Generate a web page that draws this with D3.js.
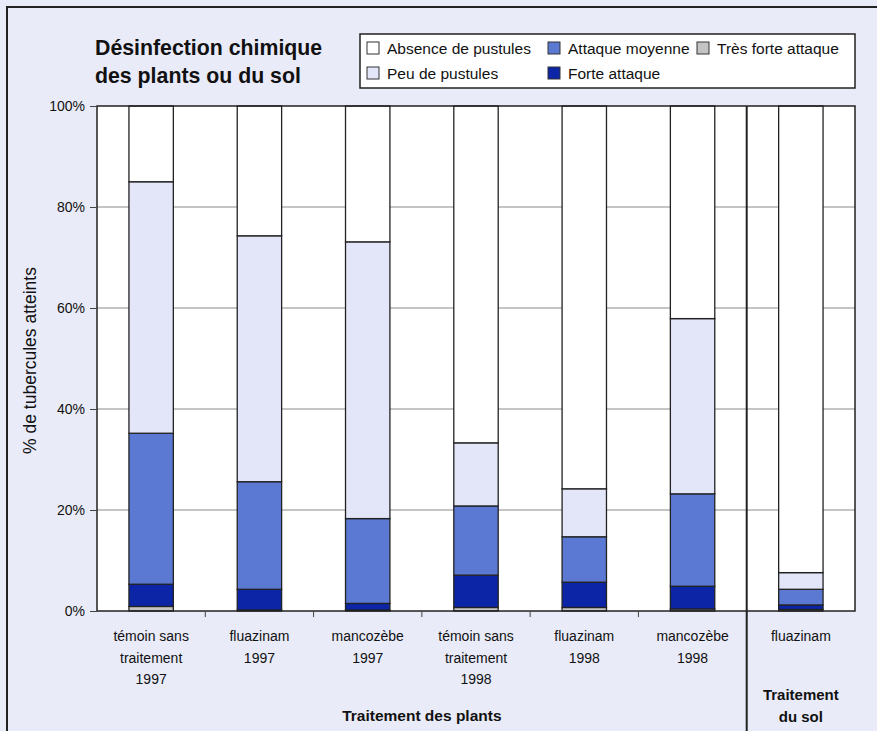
<!DOCTYPE html>
<html>
<head>
<meta charset="utf-8">
<script src="https://cdn.jsdelivr.net/npm/d3@7"></script>
<style>
  body { margin: 0; background: #fff; }
  text { font-family: "Liberation Sans", Arial, sans-serif; fill: #111; }
</style>
</head>
<body>
<div id="chart"></div>
<script>
// categories (lines of each x label)
const categories = [
  ["témoin sans", "traitement", "1997"],
  ["fluazinam", "1997"],
  ["mancozèbe", "1997"],
  ["témoin sans", "traitement", "1998"],
  ["fluazinam", "1998"],
  ["mancozèbe", "1998"],
  ["fluazinam"]
];
const seriesNames = ["Très forte attaque", "Forte attaque", "Attaque moyenne", "Peu de pustules", "Absence de pustules"];
// values in % of tubers, per category
const tresForte = [0.9, 0.2, 0.2, 0.7, 0.7, 0.4, 0.3];
const forte     = [4.4, 4.1, 1.3, 6.4, 5.0, 4.5, 0.9];
const moyenne   = [29.9, 21.3, 16.8, 13.7, 9.0, 18.3, 3.1];
const peu       = [49.8, 48.7, 54.8, 12.5, 9.5, 34.7, 3.3];
const absence   = categories.map((c, i) => 100 - tresForte[i] - forte[i] - moyenne[i] - peu[i]);
const yTicks = [0, 20, 40, 60, 80, 100];

const colors = {
  "Très forte attaque": "#c4c4c6",
  "Forte attaque": "#0b25a6",
  "Attaque moyenne": "#5b78d2",
  "Peu de pustules": "#e3e6f8",
  "Absence de pustules": "#ffffff"
};

const W = 877, H = 731;
const margin = {top: 106, right: 22, bottom: 120, left: 97};
const width = W - margin.left - margin.right,
      height = H - margin.top - margin.bottom;

const svg = d3.select("#chart").append("svg")
  .attr("width", W).attr("height", H);

// page background and frame
svg.append("rect").attr("x", 0).attr("y", 0).attr("width", W).attr("height", H).attr("fill", "#e9ebf8");
svg.append("rect").attr("x", 7).attr("y", 7).attr("width", W - 5).attr("height", H + 10)
  .attr("fill", "none").attr("stroke", "#222").attr("stroke-width", 2);

const g = svg.append("g").attr("transform", "translate(" + margin.left + "," + margin.top + ")");

const data = categories.map((c, i) => ({
  idx: i,
  "Très forte attaque": tresForte[i],
  "Forte attaque": forte[i],
  "Attaque moyenne": moyenne[i],
  "Peu de pustules": peu[i],
  "Absence de pustules": absence[i]
}));

const x = d3.scaleBand().domain(data.map(d => d.idx)).range([0, width])
  .paddingInner(0.59).paddingOuter(0.295);
const y = d3.scaleLinear().domain([0, 100]).range([height, 0]);

// plot background
g.append("rect").attr("width", width).attr("height", height).attr("fill", "#fff");

// grid lines
g.selectAll(".grid").data(yTicks.slice(1, -1)).enter().append("line")
  .attr("x1", 0).attr("x2", width)
  .attr("y1", d => y(d)).attr("y2", d => y(d))
  .attr("stroke", "#8a8a8a").attr("stroke-width", 1);

// stacked bars
const stack = d3.stack().keys(seriesNames)(data);
g.selectAll(".layer").data(stack).enter().append("g")
  .attr("fill", d => colors[d.key])
  .selectAll("rect").data(d => d).enter().append("rect")
    .attr("x", d => x(d.data.idx))
    .attr("width", x.bandwidth())
    .attr("y", d => y(d[1]))
    .attr("height", d => y(d[0]) - y(d[1]))
    .attr("stroke", "#222").attr("stroke-width", 1.3);

// plot frame
g.append("rect").attr("width", width).attr("height", height)
  .attr("fill", "none").attr("stroke", "#222").attr("stroke-width", 1.5);

// y axis
const yAxis = g.append("g").call(d3.axisLeft(y).tickValues(yTicks).tickFormat(d => d + "%").tickSize(7).tickPadding(5));
yAxis.select(".domain").remove();
yAxis.selectAll("line").attr("stroke", "#444");
yAxis.selectAll("text").style("font-size", "14px").style("font-family", "Liberation Sans, Arial, sans-serif").attr("fill", "#111");

// category boundary ticks on x axis
const step = x.step();
g.selectAll(".xtick").data(d3.range(1, categories.length)).enter().append("line")
  .attr("x1", d => d * step).attr("x2", d => d * step)
  .attr("y1", height).attr("y2", height + 6)
  .attr("stroke", "#444");

// separator between plant and soil treatment
g.append("line")
  .attr("x1", 6 * step).attr("x2", 6 * step)
  .attr("y1", 0).attr("y2", H)
  .attr("stroke", "#222").attr("stroke-width", 2);

// x labels
const lab = g.selectAll(".xlab").data(categories).enter().append("text")
  .attr("text-anchor", "middle")
  .attr("transform", (d, i) => "translate(" + (x(i) + x.bandwidth() / 2) + "," + (height + 30) + ")")
  .style("font-size", "14px");
lab.selectAll("tspan").data(d => d).enter().append("tspan")
  .attr("x", 0).attr("dy", (d, i) => i === 0 ? 0 : 21.5)
  .text(d => d);

// group labels
g.append("text").attr("x", 3 * step).attr("y", height + 110)
  .attr("text-anchor", "middle").style("font-size", "15.5px").style("font-weight", "bold")
  .text("Traitement des plants");
g.append("text").attr("x", 6.5 * step).attr("y", height + 89)
  .attr("text-anchor", "middle").style("font-size", "15px").style("font-weight", "bold")
  .text("Traitement");
g.append("text").attr("x", 6.5 * step).attr("y", height + 111)
  .attr("text-anchor", "middle").style("font-size", "15px").style("font-weight", "bold")
  .text("du sol");

// y axis title
svg.append("text")
  .attr("transform", "translate(36," + (margin.top + height / 2 + 2) + ") rotate(-90)")
  .attr("text-anchor", "middle").style("font-size", "17.5px")
  .text("% de tubercules atteints");

// title
svg.append("text").attr("x", 95).attr("y", 55).style("font-size", "21.3px").style("font-weight", "bold")
  .text("Désinfection chimique");
svg.append("text").attr("x", 95).attr("y", 83).style("font-size", "21.3px").style("font-weight", "bold")
  .text("des plants ou du sol");

// legend
const legend = svg.append("g");
legend.append("rect").attr("x", 360).attr("y", 34).attr("width", 495).attr("height", 54)
  .attr("fill", "#fff").attr("stroke", "#222").attr("stroke-width", 1.5);
const legendItems = [
  {name: "Absence de pustules", x: 367, y: 48},
  {name: "Attaque moyenne", x: 548, y: 48},
  {name: "Très forte attaque", x: 697, y: 48},
  {name: "Peu de pustules", x: 367, y: 73},
  {name: "Forte attaque", x: 548, y: 73}
];
const li = legend.selectAll(".li").data(legendItems).enter().append("g")
  .attr("transform", d => "translate(" + d.x + "," + d.y + ")");
li.append("rect").attr("x", 0).attr("y", -6).attr("width", 12).attr("height", 12)
  .attr("fill", d => colors[d.name]).attr("stroke", "#333").attr("stroke-width", 1);
li.append("text").attr("x", 20).attr("y", 5.5).style("font-size", "15.5px").text(d => d.name);
</script>
</body>
</html>
